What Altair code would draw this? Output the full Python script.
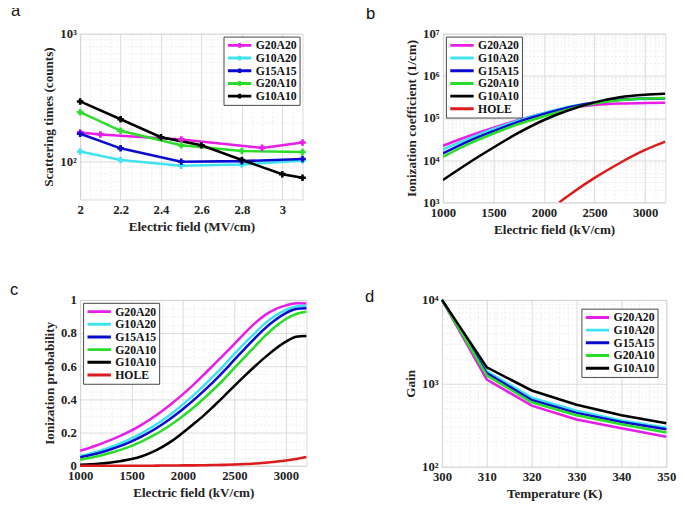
import altair as alt
import pandas as pd

SERIES = ["G20A20", "G10A20", "G15A15", "G20A10", "G10A10", "HOLE"]
COLORS = ["#e61ee6", "#3fe3f0", "#0b0bd0", "#2bdc2b", "#000000", "#dc1c1c"]

# ---------------- panel a : scattering times ----------------
a_field_G20A20 = [2.0, 2.1, 2.5, 2.9, 3.1]
a_count_G20A20 = [168, 162, 148, 127, 140]
a_field_G10A20 = [2.0, 2.2, 2.5, 2.8, 3.1]
a_count_G10A20 = [119, 102, 92, 94, 101]
a_field_G15A15 = [2.0, 2.2, 2.5, 2.8, 3.1]
a_count_G15A15 = [164, 126, 99, 100, 104]
a_field_G20A10 = [2.0, 2.2, 2.5, 2.8, 3.1]
a_count_G20A10 = [242, 173, 133, 120, 118]
a_field_G10A10 = [2.0, 2.2, 2.4, 2.6, 2.8, 3.0, 3.1]
a_count_G10A10 = [294, 213, 154, 133, 102, 79, 74]

# ---------------- panel b : ionization coefficient ----------------
b_field = [1000, 1250, 1500, 1750, 2000, 2250, 2500, 2750, 3000, 3200]
b_G20A20 = [2.2e4, 3.7e4, 5.9e4, 9.0e4, 1.30e5, 1.72e5, 2.03e5, 2.20e5, 2.28e5, 2.30e5]
b_G10A20 = [1.8e4, 3.2e4, 5.5e4, 8.8e4, 1.32e5, 1.85e5, 2.35e5, 2.70e5, 2.85e5, 2.90e5]
b_G15A15 = [1.45e4, 2.8e4, 4.9e4, 8.2e4, 1.25e5, 1.80e5, 2.32e5, 2.70e5, 2.90e5, 2.95e5]
b_G20A10 = [1.2e4, 2.4e4, 4.3e4, 7.2e4, 1.10e5, 1.65e5, 2.22e5, 2.65e5, 2.90e5, 3.00e5]
b_G10A10 = [3.4e3, 8.5e3, 2.0e4, 4.5e4, 9.0e4, 1.55e5, 2.35e5, 3.10e5, 3.55e5, 3.75e5]
b_hole_field = [2150, 2250, 2500, 2750, 3000, 3200]
b_HOLE = [1.0e3, 1.5e3, 3.8e3, 8.6e3, 1.75e4, 2.75e4]

# ---------------- panel c : ionization probability ----------------
c_field = [1000, 1100, 1200, 1300, 1400, 1500, 1600, 1700, 1800, 1900, 2000,
           2100, 2200, 2300, 2400, 2500, 2600, 2700, 2800, 2900, 3000, 3100, 3200]
c_G20A20 = [0.090, 0.110, 0.132, 0.156, 0.183, 0.213, 0.248, 0.288, 0.332, 0.380, 0.432,
            0.488, 0.548, 0.610, 0.672, 0.735, 0.800, 0.860, 0.910, 0.945, 0.967, 0.980, 0.978]
c_G10A20 = [0.058, 0.074, 0.092, 0.113, 0.137, 0.165, 0.197, 0.233, 0.274, 0.320, 0.370,
            0.424, 0.482, 0.543, 0.607, 0.675, 0.740, 0.800, 0.860, 0.905, 0.940, 0.960, 0.965]
c_G15A15 = [0.050, 0.064, 0.080, 0.099, 0.121, 0.147, 0.177, 0.211, 0.250, 0.294, 0.342,
            0.394, 0.450, 0.509, 0.572, 0.640, 0.705, 0.770, 0.830, 0.880, 0.920, 0.945, 0.950]
c_G20A10 = [0.036, 0.048, 0.062, 0.078, 0.097, 0.120, 0.147, 0.178, 0.214, 0.255, 0.300,
            0.350, 0.404, 0.461, 0.523, 0.590, 0.655, 0.720, 0.785, 0.840, 0.885, 0.915, 0.928]
c_G10A10 = [0.005, 0.008, 0.013, 0.020, 0.029, 0.040, 0.057, 0.082, 0.114, 0.153, 0.200,
            0.250, 0.302, 0.360, 0.420, 0.482, 0.542, 0.600, 0.655, 0.705, 0.748, 0.778, 0.783]
c_HOLE = [0.000, 0.000, 0.000, 0.000, 0.000, 0.000, 0.000, 0.000, 0.001, 0.001, 0.002,
          0.002, 0.003, 0.004, 0.005, 0.007, 0.010, 0.013, 0.018, 0.024, 0.031, 0.041, 0.052]

# ---------------- panel d : gain ----------------
d_temp = [300, 310, 320, 330, 340, 350]
d_G20A20 = [10000, 1110, 540, 368, 289, 229]
d_G10A20 = [10000, 1396, 673, 470, 359, 294]
d_G15A15 = [10000, 1322, 631, 442, 343, 281]
d_G20A10 = [10000, 1241, 593, 414, 322, 257]
d_G10A10 = [10000, 1553, 820, 552, 414, 331]


def long_df(pairs):
    rows = []
    for name, xs, ys in pairs:
        for x, y in zip(xs, ys):
            rows.append({"series": name, "x": x, "y": y})
    return pd.DataFrame(rows)


df_a = long_df([
    ("G20A20", a_field_G20A20, a_count_G20A20),
    ("G10A20", a_field_G10A20, a_count_G10A20),
    ("G15A15", a_field_G15A15, a_count_G15A15),
    ("G20A10", a_field_G20A10, a_count_G20A10),
    ("G10A10", a_field_G10A10, a_count_G10A10),
])
df_b = long_df([
    ("G20A20", b_field, b_G20A20), ("G10A20", b_field, b_G10A20),
    ("G15A15", b_field, b_G15A15), ("G20A10", b_field, b_G20A10),
    ("G10A10", b_field, b_G10A10), ("HOLE", b_hole_field, b_HOLE),
])
df_c = long_df([
    ("G20A20", c_field, c_G20A20), ("G10A20", c_field, c_G10A20),
    ("G15A15", c_field, c_G15A15), ("G20A10", c_field, c_G20A10),
    ("G10A10", c_field, c_G10A10), ("HOLE", c_field, c_HOLE),
])
df_d = long_df([
    ("G20A20", d_temp, d_G20A20), ("G10A20", d_temp, d_G10A20),
    ("G15A15", d_temp, d_G15A15), ("G20A10", d_temp, d_G20A10),
    ("G10A10", d_temp, d_G10A10),
])

SERIF = "Liberation Serif"
MAJOR_GRID = "#d0d0d0"
MINOR_GRID = "#e8e8e8"


def axis(title, values, major_test, label_expr, title_pad=4):
    return alt.Axis(
        title=title, values=values, labelExpr=label_expr,
        grid=True,
        gridColor={"condition": {"test": major_test, "value": MAJOR_GRID}, "value": MINOR_GRID},
        gridDash={"condition": {"test": major_test, "value": []}, "value": [2, 2]},
        gridWidth=0.8,
        ticks=False, domain=False, labelFlush=False, labelOverlap=False,
        labelFont=SERIF, labelFontWeight="bold", labelFontSize=13, labelColor="#222",
        labelPadding=4,
        titleFont=SERIF, titleFontWeight="bold", titleFontSize=13.5, titleColor="#222",
        titlePadding=title_pad,
    )


def log_values(lo_dec, hi_dec):
    vals = []
    for d in range(lo_dec, hi_dec):
        for m in range(1, 10):
            vals.append(m * 10 ** d)
    vals.append(10 ** hi_dec)
    return vals


SUP = {2: "²", 3: "³", 4: "⁴", 5: "⁵", 6: "⁶", 7: "⁷"}


def log_label_expr(lo_dec, hi_dec):
    expr = "''"
    for d in range(hi_dec, lo_dec - 1, -1):
        expr = f"datum.value == {10 ** d} ? '10{SUP[d]}' : " + expr
    return expr


LINE_SYMBOL = "M-2,0L2,0"
MARKER_SYMBOL = "M-2,0L2,0M0,-0.4L0,0.4M-0.4,0L0.4,0"


def legend(orient, symbol, offset):
    return alt.Legend(
        title=None, orient=orient, offset=offset, symbolType=symbol,
        symbolStrokeWidth=3, symbolSize=144, labelFont=SERIF, labelFontWeight="bold",
        labelFontSize=12, labelColor="#111", labelOffset=9, fillColor="white",
        strokeColor="#444", padding=3, rowPadding=1, cornerRadius=0,
        symbolOffset=6, clipHeight=12,
    )


def color(n, orient, offset, symbol=LINE_SYMBOL):
    return alt.Color("series:N", sort=SERIES[:n],
                     scale=alt.Scale(domain=SERIES[:n], range=COLORS[:n]),
                     legend=legend(orient, symbol, offset))


def letter(t, dx, offset):
    return alt.TitleParams(t, anchor="start", frame="group", dx=dx, offset=offset,
                           font="Liberation Sans", fontSize=17, fontWeight="normal",
                           color="#111")


# panel a
ax_a_vals = [round(2.0 + 0.05 * i, 2) for i in range(23)]
panel_a = alt.Chart(df_a, title=letter("a", -71, 8)).mark_line(
    strokeWidth=2.6,
    point=alt.OverlayMarkDef(shape="cross", filled=True, size=45),
).encode(
    x=alt.X("x:Q", scale=alt.Scale(domain=[2, 3.1], nice=False),
            axis=axis("Electric field (MV/cm)", ax_a_vals,
                      "abs(datum.value*5 - round(datum.value*5)) < 0.001",
                      "abs(datum.value*5 - round(datum.value*5)) < 0.001 ? format(datum.value, '.2~f') : ''")),
    y=alt.Y("y:Q", scale=alt.Scale(type="log", domain=[50, 1000], nice=False),
            axis=axis("Scattering times (counts)", [50, 60, 70, 80, 90] + log_values(2, 3),
                      "datum.value == 100 || datum.value == 1000", log_label_expr(2, 3))),
    color=color(5, "top-right", 3, MARKER_SYMBOL),
).properties(width=228, height=170)

# panel b
bx_vals = list(range(1000, 3201, 100))
panel_b = alt.Chart(df_b, title=letter("b", -79, 5)).mark_line(
    strokeWidth=2.6, interpolate="monotone", clip=True,
).encode(
    x=alt.X("x:Q", scale=alt.Scale(domain=[1000, 3200], nice=False),
            axis=axis("Electric field (kV/cm)", bx_vals, "datum.value % 500 == 0",
                      "datum.value % 500 == 0 && datum.value <= 3000 ? format(datum.value, 'd') : ''")),
    y=alt.Y("y:Q", scale=alt.Scale(type="log", domain=[1000, 1e7], nice=False),
            axis=axis("Ionization coefficient (1/cm)", log_values(3, 7),
                      "datum.value == 1000 || datum.value == 10000 || datum.value == 100000 || datum.value == 1000000 || datum.value == 10000000",
                      log_label_expr(3, 7))),
    color=color(6, "top-left", 3),
).properties(width=228, height=173)

# panel c
cy_vals = [round(0.05 * i, 2) for i in range(21)]
panel_c = alt.Chart(df_c, title=letter("c", -72, -5)).mark_line(
    strokeWidth=2.6, interpolate="monotone",
).encode(
    x=alt.X("x:Q", scale=alt.Scale(domain=[1000, 3200], nice=False),
            axis=axis("Electric field (kV/cm)", bx_vals, "datum.value % 500 == 0",
                      "datum.value % 500 == 0 && datum.value <= 3000 ? format(datum.value, 'd') : ''")),
    y=alt.Y("y:Q", scale=alt.Scale(domain=[0, 1], nice=False),
            axis=axis("Ionization probability", cy_vals,
                      "abs(datum.value*5 - round(datum.value*5)) < 0.001",
                      "abs(datum.value*5 - round(datum.value*5)) < 0.001 ? format(datum.value, '.1~f') : ''")),
    color=color(6, "top-left", 3),
).properties(width=232, height=170)

# panel d
dx_vals = list(range(300, 351, 2))
panel_d = alt.Chart(df_d, title=letter("d", -79, -12)).mark_line(
    strokeWidth=2.6,
).encode(
    x=alt.X("x:Q", scale=alt.Scale(domain=[300, 350], nice=False),
            axis=axis("Temperature (K)", dx_vals, "datum.value % 10 == 0",
                      "datum.value % 10 == 0 ? format(datum.value, 'd') : ''")),
    y=alt.Y("y:Q", scale=alt.Scale(type="log", domain=[100, 10000], nice=False),
            axis=axis("Gain", log_values(2, 4),
                      "datum.value == 100 || datum.value == 1000 || datum.value == 10000",
                      log_label_expr(2, 4))),
    color=color(5, "top-right", 9),
).properties(width=230, height=171)

row1 = alt.hconcat(panel_a, panel_b, spacing=58).resolve_scale(color="independent")
row2 = alt.hconcat(panel_c, panel_d, spacing=53).resolve_scale(color="independent")

chart = alt.vconcat(row1, row2, spacing=45).resolve_scale(color="independent").properties(
    padding={"left": 1, "top": -13, "right": 0, "bottom": 0},
).configure_view(
    stroke="#8a8a8a", strokeWidth=1,
).configure(background="white")

chart.save("out.html", embed_options={"renderer": "svg", "actions": False})
